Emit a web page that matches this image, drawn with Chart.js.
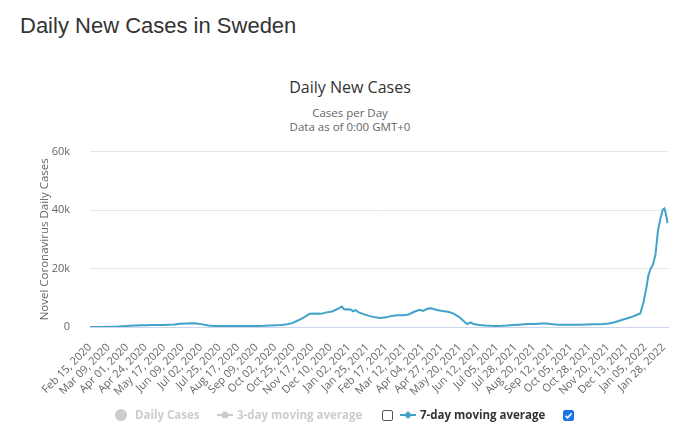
<!DOCTYPE html>
<html>
<head>
<meta charset="utf-8">
<script src="https://cdn.jsdelivr.net/npm/chart.js@4"></script>
<style>
  body { margin: 0; width: 700px; height: 438px; background: #fff; position: relative; overflow: hidden; font-family: "Open Sans", sans-serif; }
  #pageTitle { position: absolute; left: 20px; top: 13px; font: 22px "Liberation Sans", Arial, sans-serif; color: #333; }
  #chartTitle { position: absolute; left: 0; width: 700px; top: 76px; text-align: center; font-size: 16px; color: #333; }
  #sub { position: absolute; left: 0; width: 700px; top: 106px; text-align: center; font-size: 11.5px; line-height: 14px; color: #666; }
  #wrap { position: absolute; left: 30px; top: 125px; width: 649px; height: 287px; }
  .leg { position: absolute; top: 407px; font-size: 11.5px; font-weight: bold; white-space: nowrap; }
  .box { position: absolute; top: 410px; width: 11px; height: 11px; border: 1px solid #555; border-radius: 2px; box-sizing: border-box; }
</style>
</head>
<body>
<div id="pageTitle">Daily New Cases in Sweden</div>
<div id="chartTitle">Daily New Cases</div>
<div id="sub">Cases per Day<br>Data as of 0:00 GMT+0</div>
<div id="wrap"><canvas id="casesChart"></canvas></div>

<svg style="position:absolute;left:114px;top:408px" width="14" height="14"><circle cx="7" cy="7" r="6" fill="#ccc"/></svg>
<div class="leg" style="left:135px;color:#ccc">Daily Cases</div>
<svg style="position:absolute;left:217px;top:408px" width="16" height="14"><line x1="0" y1="7" x2="16" y2="7" stroke="#ccc" stroke-width="2"/><circle cx="8" cy="7" r="3.5" fill="#ccc"/></svg>
<div class="leg" style="left:237px;color:#ccc">3-day moving average</div>
<div class="box" style="left:382px"></div>
<svg style="position:absolute;left:400px;top:408px" width="16" height="14"><line x1="0" y1="7" x2="16" y2="7" stroke="#42a2c8" stroke-width="2"/><path d="M8 3 L12 7 L8 11 L4 7 Z" fill="#42a2c8"/></svg>
<div class="leg" style="left:420px;color:#333">7-day moving average</div>
<div class="box" style="left:563px;background:#1a73e8;border-color:#1a73e8">
  <svg width="11" height="11" style="position:absolute;left:-1px;top:-1px"><path d="M2.5 5.8 L4.6 7.8 L8.6 3.4" stroke="#fff" stroke-width="1.6" fill="none"/></svg>
</div>

<script>
// day offsets from Feb 15, 2020 and 7-day average of new cases
const startDate = Date.UTC(2020, 1, 15);
const days = [0, 7, 14, 21, 28, 35, 42, 49, 56, 63, 70, 77, 84, 91, 98, 105, 112, 119, 126, 133,
  140, 147, 154, 161, 168, 175, 182, 189, 196, 203, 210, 217, 224, 231, 238, 245, 252, 259, 266, 273,
  280, 287, 294, 301, 308, 313, 316, 320, 324, 327, 330, 334, 340, 347, 354, 361, 368, 375, 382, 389,
  396, 403, 410, 414, 420, 424, 431, 438, 445, 452, 459, 466, 469, 473, 477, 484, 491, 498, 505, 512,
  519, 526, 533, 540, 547, 554, 561, 568, 575, 582, 589, 596, 603, 610, 617, 624, 631, 638, 645, 652,
  659, 666, 673, 680, 684, 688, 692, 694, 697, 700, 703, 706, 709, 712, 714, 716, 718];
const avg7 = [0, 0, 10, 50, 100, 150, 300, 450, 550, 600, 600, 650, 700, 650, 750, 850, 1100, 1200, 1250, 1200,
  900, 500, 350, 300, 300, 350, 350, 300, 300, 300, 350, 400, 500, 600, 700, 950, 1400, 2300, 3300, 4500,
  4600, 4500, 5000, 5300, 6200, 7000, 6000, 6100, 6000, 5400, 5800, 5000, 4400, 3800, 3300, 3100, 3300, 3800, 4000, 4000,
  4300, 5200, 5900, 5500, 6300, 6400, 5800, 5500, 5200, 4600, 3400, 1600, 1000, 1600, 1000, 700, 500, 400, 350, 400,
  500, 650, 800, 950, 1050, 1000, 1200, 1200, 900, 800, 750, 750, 800, 800, 850, 900, 950, 1000, 1200, 1600,
  2200, 2800, 3400, 4200, 4600, 8500, 14000, 17500, 20000, 21500, 25000, 33000, 37000, 40200, 40600, 38500, 35500];
const yTicks = [0, 20000, 40000, 60000];
const tickStep = 23;
const lastDay = 719;

const months = ['Jan','Feb','Mar','Apr','May','Jun','Jul','Aug','Sep','Oct','Nov','Dec'];
function dayLabel(v) {
  const d = new Date(startDate + v * 86400000);
  return months[d.getUTCMonth()] + ' ' + String(d.getUTCDate()).padStart(2, '0') + ', ' + d.getUTCFullYear();
}

const ctx = document.getElementById('casesChart');

new Chart(ctx, {
  type: 'line',
  data: {
    datasets: [{
      label: '7-day moving average',
      data: days.map((d, i) => ({ x: d, y: avg7[i] })),
      borderColor: '#42a2c8',
      borderWidth: 2,
      pointRadius: 0,
      tension: 0
    }]
  },
  options: {
    responsive: true,
    maintainAspectRatio: false,
    animation: false,
    layout: { padding: { top: 10, right: 7, left: 0, bottom: 0 } },
    plugins: { legend: { display: false }, tooltip: { enabled: false } },
    scales: {
      x: {
        type: 'linear',
        min: 0,
        max: lastDay,
        grid: { display: false },
        border: { color: '#ccd6eb' },
        afterFit: s => { s.height = 85; },
        ticks: {
          stepSize: tickStep,
          includeBounds: false,
          autoSkip: false,
          minRotation: 45,
          maxRotation: 45,
          padding: 6,
          color: '#666',
          font: { family: 'Open Sans', size: 11 },
          callback: v => dayLabel(v)
        }
      },
      y: {
        min: 0,
        max: 60000,
        afterFit: s => { s.width = 60; },
        afterBuildTicks: s => { s.ticks = yTicks.map(v => ({ value: v })); },
        grid: { color: '#e6e6e6', drawTicks: false },
        border: { display: false },
        title: {
          display: true,
          text: 'Novel Coronavirus Daily Cases',
          color: '#666',
          font: { family: 'Open Sans', size: 11.5 },
          padding: { top: 8, bottom: 0 }
        },
        ticks: {
          padding: 20,
          color: '#666',
          font: { family: 'Open Sans', size: 11 },
          callback: v => v === 0 ? '0' : (v / 1000) + 'k'
        }
      }
    }
  }
});
</script>
</body>
</html>
